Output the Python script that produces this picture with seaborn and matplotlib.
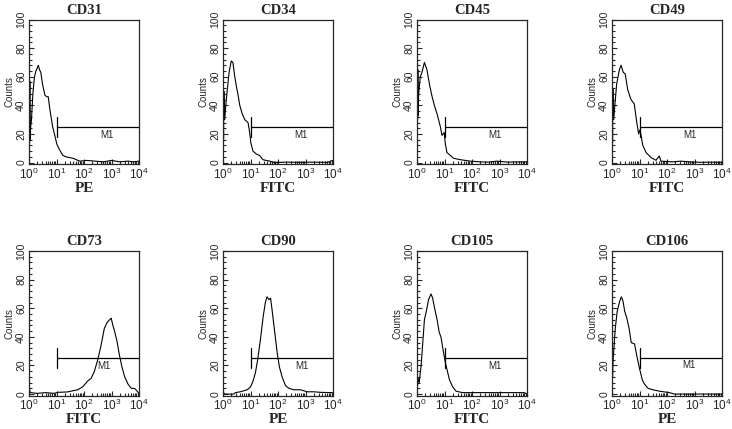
import numpy as np
import matplotlib
matplotlib.use("Agg")
import matplotlib.pyplot as plt
import seaborn as sns
from matplotlib.ticker import AutoMinorLocator, LogLocator, LogFormatterSciNotation, NullFormatter

# marker names and detection channel
markers = ["CD31", "CD34", "CD45", "CD49", "CD73", "CD90", "CD105", "CD106"]
channels = ["PE", "FITC", "FITC", "FITC", "FITC", "PE", "FITC", "PE"]
x_ticks = [1, 10, 100, 1000, 10000]

# histogram traces: position in decades (10^x) and counts
cd31_dec = [0.0, 0.01, 0.02, 0.03, 0.04, 0.06, 0.09, 0.14, 0.20, 0.25, 0.30, 0.34, 0.38, 0.43, 0.49,
            0.58, 0.65, 0.70, 0.76, 0.86, 0.95, 1.01, 1.11, 1.23, 1.35, 1.60, 1.85, 2.1, 2.4, 2.7,
            3.0, 3.3, 3.6, 3.8, 4.0]
cd31_cnt = [0, 55, 14, 57, 16, 25, 30, 48, 60, 64, 66, 68, 65, 63, 55,
            47, 46, 46, 37, 25, 18, 13, 9, 5, 4, 3, 1, 1.5, 1, 0.5,
            1.5, 0.5, 1, 0.5, 1]

cd34_dec = [0.0, 0.01, 0.02, 0.03, 0.06, 0.12, 0.22, 0.30, 0.36, 0.42, 0.48, 0.55, 0.61, 0.70,
            0.79, 0.91, 0.97, 1.01, 1.09, 1.21, 1.33, 1.45, 1.70, 1.88, 2.3, 2.8, 3.3, 3.8, 3.98, 4.0]
cd34_cnt = [0, 56, 16, 50, 30, 44, 63, 71, 70, 61, 54, 47, 40, 34,
            30, 28, 21, 14, 8, 6, 5, 2, 1, 0, 0.3, 0.2, 0.3, 0.2, 1.5, 0]

cd45_dec = [0.0, 0.01, 0.02, 0.03, 0.04, 0.06, 0.12, 0.18, 0.27, 0.36, 0.46, 0.55, 0.63, 0.73,
            0.85, 0.91, 0.99, 1.03, 1.09, 1.21, 1.33, 1.58, 1.94, 2.3, 2.6, 2.9, 3.3, 3.7, 4.0]
cd45_cnt = [0, 64, 30, 65, 33, 48, 60, 63, 70, 65, 54, 46, 40, 34,
            25, 19, 21, 13, 7, 5, 3, 2, 1, 0.5, 0.3, 1, 0.3, 0.5, 0.5]

cd49_dec = [0.0, 0.01, 0.02, 0.03, 0.06, 0.17, 0.27, 0.33, 0.41, 0.48, 0.57, 0.69, 0.81, 0.90,
            0.97, 1.02, 1.12, 1.24, 1.42, 1.60, 1.72, 1.78, 2.2, 2.5, 2.81, 3.2, 3.6, 4.0]
cd49_cnt = [0, 56, 14, 52, 30, 55, 65, 68, 63, 62, 51, 44, 41, 28,
            20, 23, 12, 7, 3.5, 1.6, 4.6, 1, 0.5, 1, 0.5, 0.2, 0.3, 0.2]

cd73_dec = [0.0, 0.01, 0.02, 0.05, 0.3, 0.6, 0.91, 1.04, 1.4, 1.77, 1.95, 2.13, 2.26, 2.38, 2.50,
            2.62, 2.74, 2.84, 2.93, 2.99, 3.05, 3.11, 3.20, 3.29, 3.38, 3.48, 3.60, 3.72, 3.84,
            3.96, 4.0]
cd73_cnt = [0, 9, 3, 1, 0.5, 1, 0.5, 1.2, 1.5, 3, 5, 9, 11, 16, 24,
            34, 46, 50, 52, 53, 48, 44, 37, 27, 19, 12, 7, 4, 4,
            1.4, 0]

cd90_dec = [0.0, 0.01, 0.02, 0.05, 0.39, 0.45, 0.63, 0.88, 1.00, 1.09, 1.18, 1.26, 1.36, 1.46,
            1.54, 1.60, 1.67, 1.73, 1.79, 1.87, 1.97, 2.05, 2.15, 2.27, 2.40, 2.58, 2.82, 3.06,
            3.30, 3.55, 3.98, 4.0]
cd90_cnt = [0, 5, 1, 0, 0, 1, 1.6, 3, 5, 9, 15, 24, 38, 54,
            64, 68, 66, 67, 58, 45, 29, 19, 12, 6, 4, 3, 3, 1.6,
            1.6, 1.2, 1, 0]

cd105_dec = [0.0, 0.01, 0.02, 0.04, 0.08, 0.15, 0.27, 0.35, 0.42, 0.51, 0.57, 0.63, 0.73, 0.81,
             0.87, 0.93, 1.01, 1.08, 1.18, 1.30, 1.42, 1.66, 1.90, 2.3, 2.7, 3.1, 3.5, 3.9, 4.0]
cd105_cnt = [0, 13, 6, 11, 8, 20, 52, 59, 66, 70, 67, 61, 52, 43,
             40, 33, 24, 18, 10, 5, 2, 1, 1, 1, 1, 1, 1, 1, 0]

cd106_dec = [0.0, 0.01, 0.02, 0.04, 0.12, 0.19, 0.28, 0.34, 0.40, 0.46, 0.54, 0.62, 0.70, 0.82,
             0.91, 1.00, 1.10, 1.18, 1.31, 1.49, 1.73, 2.09, 2.27, 2.7, 3.2, 3.7, 4.0]
cd106_cnt = [0, 26, 12, 24, 46, 58, 65, 68, 65, 58, 53, 46, 36, 35,
             26, 18, 10, 7, 4, 3, 2, 1, 0, 0, 0, 0, 0]

traces = [(cd31_dec, cd31_cnt), (cd34_dec, cd34_cnt), (cd45_dec, cd45_cnt), (cd49_dec, cd49_cnt),
          (cd73_dec, cd73_cnt), (cd90_dec, cd90_cnt), (cd105_dec, cd105_cnt), (cd106_dec, cd106_cnt)]

# M1 gate: start decade, bar height, label decade
gate_start = [1.01, 1.01, 1.03, 1.02, 1.01, 1.00, 1.01, 1.03]
gate_level = [25, 25, 25, 25, 25, 25, 25, 25.5]
label_dec = [2.84, 2.85, 2.85, 2.85, 2.72, 2.86, 2.85, 2.80]

sns.set_style("ticks")
plt.rcParams["font.family"] = ["Liberation Sans", "DejaVu Sans"]
serif = ["Liberation Serif", "DejaVu Serif"]

fig = plt.figure(figsize=(7.32, 4.29), dpi=100)
W, H = 732, 429
col_left = [29, 223, 417, 612]
row_top = [19.5, 251]
ax_w, ax_h = 110, 144.5

for i, name in enumerate(markers):
    r, c = divmod(i, 4)
    ax = fig.add_axes([col_left[c] / W, 1 - (row_top[r] + ax_h) / H, ax_w / W, ax_h / H])
    dec, cnt = traces[i]
    sns.lineplot(x=10 ** np.array(dec), y=cnt, ax=ax, color="black", lw=0.8, estimator=None)
    ax.set_xscale("log")
    ax.set_xlim(1, 1e4)
    ax.set_ylim(-1, 100)
    ax.set_xticks(x_ticks)
    ax.xaxis.set_major_formatter(LogFormatterSciNotation())
    ax.xaxis.set_minor_locator(LogLocator(subs=np.arange(2, 10), numticks=20))
    ax.xaxis.set_minor_formatter(NullFormatter())
    ax.set_yticks([0, 20, 40, 60, 80, 100])
    ax.yaxis.set_minor_locator(AutoMinorLocator(5))

    # gate marker
    g0 = 10 ** gate_start[i]
    ax.plot([g0, 1e4], [gate_level[i]] * 2, color="black", lw=0.9)
    ax.plot([g0, g0], [gate_level[i] - 7, gate_level[i] + 7], color="black", lw=0.9)
    ax.text(10 ** label_dec[i], gate_level[i] - 5.5, "M1", fontsize=7, ha="center", va="center")

    for s in ax.spines.values():
        s.set_linewidth(0.9)
        s.set_visible(True)
    ax.tick_params(which="both", direction="in", width=0.8)
    ax.tick_params(which="major", length=3.5)
    ax.tick_params(which="minor", length=2)
    ax.tick_params(axis="y", labelrotation=90, pad=2, labelsize=7.5)
    ax.tick_params(axis="x", pad=2, labelsize=8.5)
    for lab in ax.get_yticklabels():
        lab.set_va("center")

    ax.set_ylabel("Counts", fontsize=7, labelpad=1)
    ax.set_xlabel(channels[i], fontsize=11, fontweight="bold", family=serif, labelpad=0)
    ax.set_title(name, fontsize=10.5, fontweight="bold", family=serif, pad=4)

fig.savefig("out.png", dpi=100)
